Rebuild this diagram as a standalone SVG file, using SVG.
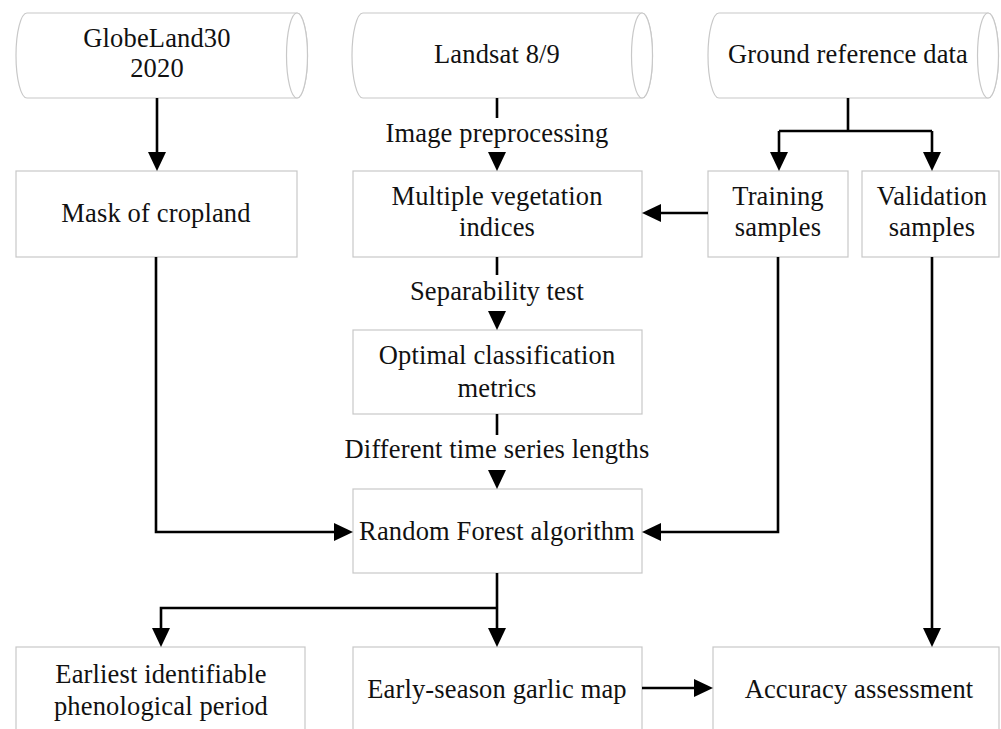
<svg xmlns="http://www.w3.org/2000/svg" width="1001" height="729" viewBox="0 0 1001 729">
<style>
.box{fill:#fff;stroke:#c8c8c8;stroke-width:1.2}
.t{font-family:"Liberation Serif","Times New Roman",serif;font-size:26.5px;letter-spacing:0.15px;fill:#111;text-anchor:middle}
.c{fill:none;stroke:#000;stroke-width:2.6}
</style>
<defs>
<marker id="ah" markerUnits="userSpaceOnUse" markerWidth="19" markerHeight="18" viewBox="0 0 19 18" refX="1" refY="9" orient="auto">
<path d="M0,0 L19,9 L0,18 Z" fill="#000"/>
</marker>
</defs>
<rect width="1001" height="729" fill="#fff"/>
<g id="globeland">
<path class="box" d="M27,13 L297,13 A10.5,42.5 0 0 1 297,98 L27,98 A11,42.5 0 0 1 27,13 Z"/>
<ellipse class="box" cx="297" cy="55.5" rx="10.5" ry="42.5" fill="none"/>
<text class="t" x="157" y="47">GlobeLand30</text>
<text class="t" x="157" y="77">2020</text>
</g>
<g id="landsat">
<path class="box" d="M363,13 L642,13 A10.5,42.5 0 0 1 642,98 L363,98 A11,42.5 0 0 1 363,13 Z"/>
<ellipse class="box" cx="642" cy="55.5" rx="10.5" ry="42.5" fill="none"/>
<text class="t" x="497" y="63">Landsat 8/9</text>
</g>
<g id="ground">
<path class="box" d="M719,13 L988,13 A10.5,42.5 0 0 1 988,98 L719,98 A11,42.5 0 0 1 719,13 Z"/>
<ellipse class="box" cx="988" cy="55.5" rx="10.5" ry="42.5" fill="none"/>
<text class="t" x="848" y="63">Ground reference data</text>
</g>
<g id="mask">
<rect class="box" x="16" y="171" width="281" height="86"/>
<text class="t" x="156" y="222">Mask of cropland</text>
</g>
<g id="multiple">
<rect class="box" x="353" y="171" width="289" height="86"/>
<text class="t" x="497" y="205">Multiple vegetation</text>
<text class="t" x="497" y="236">indices</text>
</g>
<g id="training">
<rect class="box" x="708" y="171" width="140" height="86"/>
<text class="t" x="778" y="205">Training</text>
<text class="t" x="778" y="236">samples</text>
</g>
<g id="validation">
<rect class="box" x="862" y="171" width="137" height="86"/>
<text class="t" x="932" y="205">Validation</text>
<text class="t" x="932" y="236">samples</text>
</g>
<g id="optimal">
<rect class="box" x="353" y="330" width="289" height="84"/>
<text class="t" x="497" y="364">Optimal classification</text>
<text class="t" x="497" y="397">metrics</text>
</g>
<g id="rf">
<rect class="box" x="353" y="489" width="289" height="84"/>
<text class="t" x="497" y="540">Random Forest algorithm</text>
</g>
<g id="earliest">
<rect class="box" x="16" y="647" width="289" height="90"/>
<text class="t" x="161" y="683">Earliest identifiable</text>
<text class="t" x="161" y="715">phenological period</text>
</g>
<g id="earlymap">
<rect class="box" x="353" y="647" width="289" height="90"/>
<text class="t" x="497" y="698">Early-season garlic map</text>
</g>
<g id="accuracy">
<rect class="box" x="713" y="647" width="286" height="90"/>
<text class="t" x="859" y="698">Accuracy assessment</text>
</g>
<g id="connectors">
<path class="c" d="M157,98 V153" marker-end="url(#ah)"/>
<path class="c" d="M497,98 V118"/>
<text class="t" x="497" y="142">Image preprocessing</text>
<path class="c" d="M497,152 V153" marker-end="url(#ah)"/>
<path class="c" d="M848,98 V131 M779,131 H932"/>
<path class="c" d="M779,131 V153" marker-end="url(#ah)"/>
<path class="c" d="M932,131 V153" marker-end="url(#ah)"/>
<path class="c" d="M708,213 H660" marker-end="url(#ah)"/>
<path class="c" d="M497,257 V275"/>
<text class="t" x="497" y="300">Separability test</text>
<path class="c" d="M497,311 V312" marker-end="url(#ah)"/>
<path class="c" d="M497,414 V435"/>
<text class="t" x="497" y="458">Different time series lengths</text>
<path class="c" d="M497,470 V471" marker-end="url(#ah)"/>
<path class="c" d="M156,257 V532 H335" marker-end="url(#ah)"/>
<path class="c" d="M778,257 V532 H660" marker-end="url(#ah)"/>
<path class="c" d="M932,257 V629" marker-end="url(#ah)"/>
<path class="c" d="M497,573 V629" marker-end="url(#ah)"/>
<path class="c" d="M497,608 H161 V629" marker-end="url(#ah)"/>
<path class="c" d="M642,688 H695" marker-end="url(#ah)"/>
</g>
</svg>
